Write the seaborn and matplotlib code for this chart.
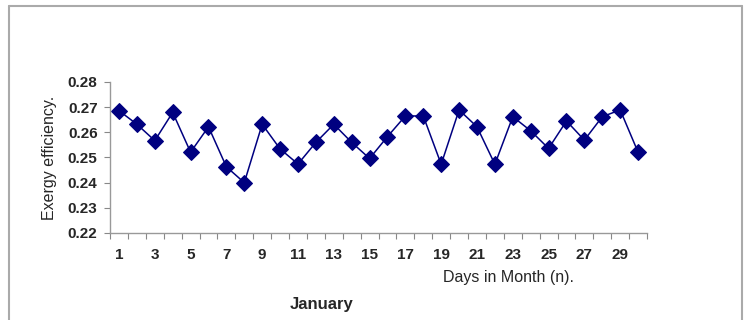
import matplotlib
matplotlib.use("Agg")
import matplotlib.pyplot as plt
import seaborn as sns
import pandas as pd
from matplotlib.lines import Line2D

days = list(range(1, 31))
exergy_eff = [0.2686, 0.2632, 0.2567, 0.2679, 0.2521, 0.2622, 0.2463, 0.2400,
              0.2632, 0.2534, 0.2474, 0.2560, 0.2632, 0.2560, 0.2496, 0.2583,
              0.2665, 0.2665, 0.2473, 0.2689, 0.2622, 0.2473, 0.2662, 0.2606,
              0.2536, 0.2645, 0.2569, 0.2662, 0.2689, 0.2521]
y_ticks = [0.22, 0.23, 0.24, 0.25, 0.26, 0.27, 0.28]
x_tick_days = list(range(1, 30, 2))

df = pd.DataFrame({"day": days, "eff": exergy_eff})

sns.set_theme(style="white")
plt.rcParams["font.family"] = ["Liberation Sans", "DejaVu Sans"]

fig = plt.figure(figsize=(7.45, 3.2), dpi=100)
ax = fig.add_axes([0.1477, 0.2719, 0.7208, 0.4719])

navy = "#000080"
sns.lineplot(data=df, x="day", y="eff", ax=ax, color=navy, linewidth=1.1,
             marker="D", markersize=8.5, markeredgecolor=navy,
             markerfacecolor=navy)

ax.set_xlim(0.5, 30.5)
ax.set_ylim(0.22, 0.28)
ax.set_yticks(y_ticks)
ax.set_yticklabels([f"{v:.2f}" for v in y_ticks], fontsize=11, fontweight="bold")

# category-style ticks: marks sit between days, labels every other day
ax.set_xticks([d + 0.5 for d in range(0, 31)])
ax.set_xticklabels([])
ax.set_xticks(x_tick_days, minor=True)
ax.set_xticklabels([str(d) for d in x_tick_days], minor=True,
                   fontsize=11, fontweight="bold")
ax.tick_params(axis="x", which="minor", bottom=False, length=0, pad=11)
ax.tick_params(axis="x", which="major", bottom=True, direction="out",
               length=4, width=0.8, color="#888888")
ax.tick_params(axis="y", left=True, direction="out", length=4, width=0.8,
               color="#888888", pad=5)

for side in ("top", "right"):
    ax.spines[side].set_visible(False)
for side in ("left", "bottom"):
    ax.spines[side].set_color("#999999")
    ax.spines[side].set_linewidth(1.0)

ax.set_xlabel("")
ax.set_ylabel("Exergy efficiency.", fontsize=11.5, labelpad=8)

fig.text(0.683, 0.134, "Days in Month (n).", fontsize=11.5, ha="center",
         va="center")
fig.text(0.431, 0.047, "January", fontsize=12, fontweight="bold",
         ha="center", va="center")

# outer chart frame
frame_kw = dict(color="#aaaaaa", linewidth=1.5, transform=fig.transFigure)
fig.add_artist(Line2D([9 / 745, 742 / 745], [1 - 6 / 320, 1 - 6 / 320], **frame_kw))
fig.add_artist(Line2D([9 / 745, 9 / 745], [0, 1 - 6 / 320], **frame_kw))
fig.add_artist(Line2D([742 / 745, 742 / 745], [0, 1 - 6 / 320], **frame_kw))

fig.savefig("out.png", dpi=100)
